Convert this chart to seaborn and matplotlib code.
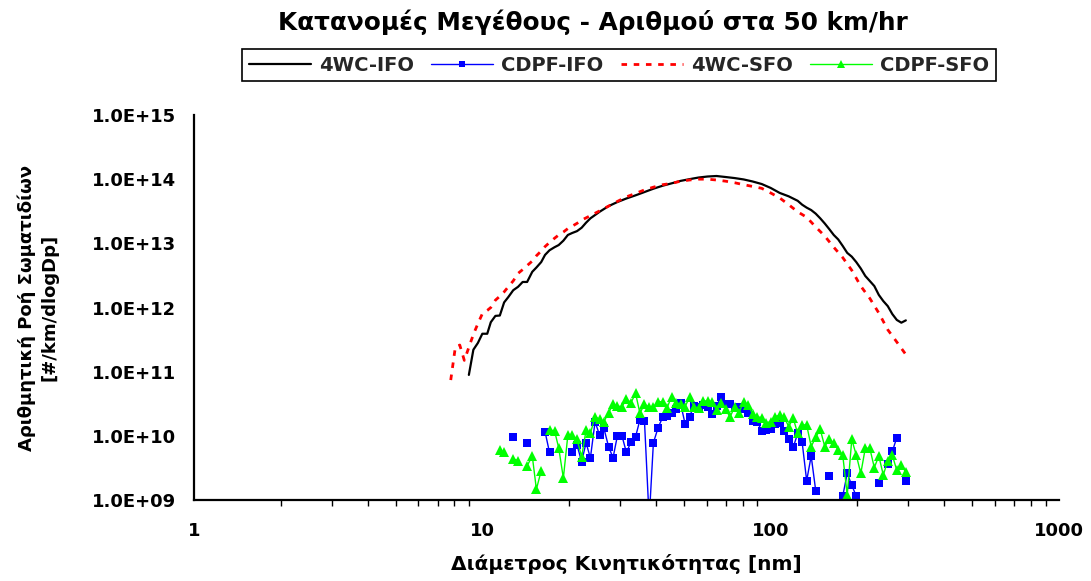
import numpy as np
import pandas as pd
import matplotlib
matplotlib.use("Agg")
import matplotlib.pyplot as plt
import seaborn as sns
from matplotlib.lines import Line2D
from matplotlib.ticker import FixedLocator, FuncFormatter, LogLocator, NullFormatter, NullLocator

# ---------------- data ----------------
title = "Κατανομές Μεγέθους - Αριθμού στα 50 km/hr"
xlabel = "Διάμετρος Κινητικότητας [nm]"
ylabel = "Αριθμητική Ροή Σωματιδίων\n[#/km/dlogDp]"
series_names = ["4WC-IFO", "CDPF-IFO", "4WC-SFO", "CDPF-SFO"]

x_ticks = [1, 10, 100, 1000]
x_tick_labels = ["1", "10", "100", "1000"]
y_ticks = [1e9, 1e10, 1e11, 1e12, 1e13, 1e14, 1e15]

# 4WC-IFO (black solid)
dp_4wc_ifo = [8.98, 9.31, 9.65, 10.0, 10.4, 10.7, 11.1, 11.5, 11.9, 12.3, 12.8, 13.3, 13.8, 14.3,
              14.9, 15.4, 16.0, 16.5, 17.1, 17.8, 18.4, 19.1, 19.8, 20.5, 21.3, 22.1, 22.9, 23.7,
              25.5, 27.4, 29.4, 31.6, 34.0, 36.5, 39.2, 42.2, 45.3, 48.7, 52.3, 56.2, 60.4, 64.9,
              69.8, 75.0, 80.6, 86.6, 93.1, 100.0, 107.5, 115.5, 124.1, 128.6, 133.3, 138.2, 143.3,
              148.6, 154.0, 159.6, 165.5, 171.5, 177.8, 184.3, 191.1, 198.1, 205.4, 212.9, 220.7,
              228.8, 237.2, 245.8, 254.8, 264.2, 273.8, 283.9, 294.3]
val_4wc_ifo = [8.9e10, 2.2e11, 2.8e11, 3.9e11, 3.9e11, 5.9e11, 7.4e11, 7.5e11, 1.2e12, 1.45e12,
               1.86e12, 2.1e12, 2.5e12, 2.5e12, 3.6e12, 4.2e12, 5.1e12, 6.6e12, 7.8e12, 8.7e12,
               9.4e12, 1.1e13, 1.35e13, 1.45e13, 1.55e13, 1.75e13, 2.1e13, 2.45e13, 3.1e13, 3.8e13,
               4.4e13, 5.0e13, 5.6e13, 6.3e13, 7.1e13, 7.9e13, 8.6e13, 9.4e13, 1.0e14, 1.06e14,
               1.1e14, 1.12e14, 1.08e14, 1.04e14, 9.9e13, 9.2e13, 8.4e13, 7.3e13, 6.1e13, 5.4e13,
               4.6e13, 4.0e13, 3.6e13, 3.3e13, 2.9e13, 2.45e13, 2.04e13, 1.67e13, 1.35e13, 1.15e13,
               9.1e12, 7.1e12, 6.2e12, 5.1e12, 4.05e12, 3.1e12, 2.59e12, 2.16e12, 1.57e12, 1.26e12,
               1.05e12, 7.9e11, 6.4e11, 5.8e11, 6.3e11]

# 4WC-SFO (red dotted)
dp_4wc_sfo = [7.77, 8.06, 8.35, 8.66, 8.98, 9.31, 9.65, 10.0, 10.4, 10.7, 11.1, 11.5, 11.9, 12.3,
              12.8, 13.3, 13.8, 14.3, 14.9, 15.4, 16.0, 16.5, 17.1, 17.8, 18.4, 19.1, 19.8, 20.5,
              21.3, 22.1, 23.7, 25.5, 27.4, 29.4, 31.6, 34.0, 36.5, 39.2, 42.2, 45.3, 48.7, 52.3,
              56.2, 60.4, 64.9, 69.8, 75.0, 80.6, 86.6, 93.1, 100.0, 107.5, 115.5, 124.1, 133.3,
              143.3, 154.0, 165.5, 177.8, 191.1, 205.4, 220.7, 237.2, 254.8, 273.8, 294.3]
val_4wc_sfo = [7.4e10, 2.4e11, 2.6e11, 1.5e11, 2.4e11, 3.8e11, 5.6e11, 8.0e11, 9.0e11, 1.0e12,
               1.3e12, 1.5e12, 1.75e12, 2.1e12, 2.6e12, 3.4e12, 3.9e12, 4.5e12, 5.3e12, 6.4e12,
               7.6e12, 8.9e12, 1.03e13, 1.2e13, 1.35e13, 1.5e13, 1.7e13, 1.85e13, 2.05e13, 2.3e13,
               2.7e13, 3.2e13, 3.8e13, 4.5e13, 5.3e13, 6.0e13, 6.8e13, 7.5e13, 8.2e13, 8.6e13,
               9.3e13, 9.7e13, 1.0e14, 1.0e14, 9.7e13, 9.3e13, 8.8e13, 8.2e13, 7.7e13, 7.2e13,
               6.1e13, 5.1e13, 4.0e13, 3.1e13, 2.55e13, 1.8e13, 1.3e13, 8.7e12, 6.0e12, 3.8e12,
               2.15e12, 1.39e12, 8.2e11, 4.5e11, 2.9e11, 1.85e11]

# CDPF series share one diameter grid; None = no value (gap)
dp_cdpf = [11.5, 11.9, 12.3, 12.8, 13.3, 13.8, 14.3, 14.9, 15.4, 16.0, 16.5, 17.1, 17.8, 18.4,
           19.1, 19.8, 20.5, 21.3, 22.1, 22.9, 23.7, 24.6, 25.5, 26.4, 27.4, 28.4, 29.4, 30.5,
           31.6, 32.8, 34.0, 35.2, 36.5, 37.9, 39.2, 40.7, 42.2, 43.7, 45.3, 47.0, 48.7, 50.5,
           52.3, 54.2, 56.2, 58.3, 60.4, 62.6, 64.9, 67.3, 69.8, 72.3, 75.0, 77.7, 80.6, 83.5,
           86.6, 89.8, 93.1, 96.5, 100.0, 103.7, 107.5, 111.4, 115.5, 119.7, 124.1, 128.6, 133.3,
           138.2, 143.3, 148.6, 154.0, 159.6, 165.5, 171.5, 177.8, 184.3, 191.1, 198.1, 205.4,
           212.9, 220.7, 228.8, 237.2, 245.8, 254.8, 264.2, 273.8, 283.9, 294.3]

val_cdpf_ifo = [None, None, None, 9.7e9, None, None, 7.6e9, None, None, None, 1.16e10, 5.5e9,
                None, None, None, None, 5.5e9, 7.2e9, 3.95e9, 7.8e9, 4.5e9, 1.66e10, 1.03e10,
                1.31e10, 6.8e9, 4.55e9, 1.0e10, 1.0e10, 5.5e9, 8.1e9, 9.7e9, 1.77e10, 1.72e10,
                5e8, 7.8e9, 1.34e10, 1.94e10, 2.04e10, 2.24e10, 2.6e10, 3.2e10, 1.53e10, 2.0e10,
                2.9e10, 2.85e10, 3.0e10, 2.8e10, 2.2e10, 2.9e10, 4.1e10, 3.1e10, 3.1e10, 2.7e10,
                2.8e10, 2.6e10, 2.3e10, 1.72e10, 1.66e10, 1.2e10, 1.23e10, 1.26e10, 1.53e10,
                1.57e10, 1.2e10, 8.8e9, 6.6e9, 1.09e10, 7.9e9, 2.0e9, 4.85e9, 1.4e9, None, None,
                2.4e9, None, None, 1.15e9, 2.6e9, 1.7e9, 1.15e9, 6e8, None, None, None, 1.82e9,
                None, 3.7e9, 5.7e9, 9.4e9, None, 1.98e9]

val_cdpf_sfo = [6.0e9, 5.5e9, None, 4.4e9, 4.1e9, None, 3.4e9, 4.85e9, 1.47e9, 2.86e9, None,
                1.23e10, 1.2e10, 6.5e9, 2.2e9, 1.03e10, 1.03e10, 8.8e9, 4.7e9, 1.23e10, 1.09e10,
                1.99e10, 1.81e10, 1.66e10, 2.29e10, 3.1e10, 2.9e10, 2.85e10, 3.7e10, 3.3e10,
                4.6e10, 2.25e10, 3.1e10, 2.8e10, 2.8e10, 3.4e10, 3.4e10, 2.7e10, 4.1e10, 3.3e10,
                3.1e10, 2.85e10, 4.0e10, 2.85e10, 2.7e10, 3.5e10, 3.5e10, 3.4e10, 2.5e10, 3.3e10,
                2.6e10, 1.95e10, 2.85e10, 2.3e10, 3.4e10, 3.0e10, 2.2e10, 2.0e10, 1.9e10, 1.6e10,
                1.66e10, 2.0e10, 2.1e10, 1.95e10, 1.39e10, 1.88e10, 1.09e10, 1.48e10, 1.48e10,
                6.8e9, 9.5e9, 1.26e10, 6.8e9, 8.8e9, 7.8e9, 6.0e9, 5.0e9, 1.2e9, 8.8e9, 5.0e9,
                2.6e9, 6.4e9, 6.4e9, 3.2e9, 4.85e9, 2.45e9, 4.1e9, 5.0e9, 2.9e9, 3.5e9, 2.7e9]

colors = {"4WC-IFO": "#000000", "CDPF-IFO": "#0000FF", "4WC-SFO": "#FF0000", "CDPF-SFO": "#00FF00"}


def to_frame(dp, vals):
    """Long frame with a segment id so gaps (None) break the line."""
    rows, seg, prev_ok = [], 0, False
    for d, v in zip(dp, vals):
        if v is None:
            if prev_ok:
                seg += 1
            prev_ok = False
            continue
        rows.append((d, v, seg))
        prev_ok = True
    return pd.DataFrame(rows, columns=["dp", "val", "seg"])


# ---------------- figure ----------------
sns.set_theme(style="white")
plt.rcParams["font.family"] = ["DejaVu Sans"]
plt.rcParams["font.weight"] = "bold"

W, H = 1091, 581
fig = plt.figure(figsize=(W / 100, H / 100), dpi=100)
L, R, T, B = 194, 1059, 115, 500
ax = fig.add_axes([L / W, 1 - B / H, (R - L) / W, (B - T) / H])
ax.set_xscale("log")
ax.set_yscale("log")

df1 = to_frame(dp_4wc_ifo, val_4wc_ifo)
df2 = to_frame(dp_cdpf, val_cdpf_ifo)
df3 = to_frame(dp_4wc_sfo, val_4wc_sfo)
df4 = to_frame(dp_cdpf, val_cdpf_sfo)

sns.lineplot(data=df1, x="dp", y="val", units="seg", estimator=None, sort=False,
             color=colors["4WC-IFO"], lw=1.6, ax=ax, legend=False)
sns.lineplot(data=df2, x="dp", y="val", units="seg", estimator=None, sort=False,
             color=colors["CDPF-IFO"], lw=1.0, marker="s", markersize=5.8,
             markeredgewidth=0, ax=ax, legend=False)
sns.lineplot(data=df3, x="dp", y="val", units="seg", estimator=None, sort=False,
             color=colors["4WC-SFO"], lw=2.0, linestyle=(0, (2.0, 2.4)), ax=ax, legend=False)
sns.lineplot(data=df4, x="dp", y="val", units="seg", estimator=None, sort=False,
             color=colors["CDPF-SFO"], lw=1.0, marker="^", markersize=7,
             markeredgewidth=0, ax=ax, legend=False)

ax.set_xlim(1, 1000)
ax.set_ylim(1e9, 1e15)

ax.xaxis.set_major_locator(FixedLocator(x_ticks))
ax.xaxis.set_major_formatter(FuncFormatter(lambda v, p: x_tick_labels[x_ticks.index(int(round(v)))] if int(round(v)) in x_ticks else ""))
ax.xaxis.set_minor_locator(LogLocator(base=10, subs=np.arange(2, 10)))
ax.xaxis.set_minor_formatter(NullFormatter())
ax.yaxis.set_major_locator(FixedLocator(y_ticks))
ax.yaxis.set_major_formatter(FuncFormatter(lambda v, p: f"{v:.1E}"))
ax.yaxis.set_minor_locator(NullLocator())

for s in ["top", "right"]:
    ax.spines[s].set_visible(False)
for s in ["left", "bottom"]:
    ax.spines[s].set_visible(True)
    ax.spines[s].set_color("black")
    ax.spines[s].set_linewidth(1.6)

ax.tick_params(axis="both", which="major", direction="out", length=6, width=1.2,
               color="black", labelsize=13, labelcolor="black")
ax.tick_params(axis="y", which="major", length=8, pad=5)
ax.tick_params(axis="x", which="major", pad=10)
ax.tick_params(axis="x", which="minor", direction="out", length=4, width=1.0, color="black",
               bottom=True)
for lbl in ax.get_xticklabels() + ax.get_yticklabels():
    lbl.set_fontweight("bold")

ax.set_xlabel(xlabel, fontsize=14.5, fontweight="bold", color="black")
ax.xaxis.set_label_coords(0.50, -0.14)
ax.set_ylabel(ylabel, fontsize=13, fontweight="bold", color="black", linespacing=1.3)
ax.yaxis.set_label_coords(-0.157, 0.5)
ax.grid(False)

fig.text(593 / W, 1 - 22 / H, title, ha="center", va="center", fontsize=17.8,
         fontweight="bold", color="black")

handles = [
    Line2D([], [], color=colors["4WC-IFO"], lw=1.6),
    Line2D([], [], color=colors["CDPF-IFO"], lw=1.0, marker="s", markersize=4.5, markeredgewidth=0),
    Line2D([], [], color=colors["4WC-SFO"], lw=2.0, linestyle=(0, (2.0, 2.4))),
    Line2D([], [], color=colors["CDPF-SFO"], lw=1.0, marker="^", markersize=5.5, markeredgewidth=0),
]
leg = fig.legend(handles, series_names, loc="center", bbox_to_anchor=(619 / W, 1 - 65 / H),
                 ncol=4, frameon=True, fancybox=False, edgecolor="black", framealpha=1,
                 handlelength=3.2, handletextpad=0.4, columnspacing=0.9, borderpad=0.35,
                 prop={"size": 14, "weight": "bold"})
leg.get_frame().set_linewidth(1.2)

fig.savefig("out.png", dpi=100, facecolor="white")
